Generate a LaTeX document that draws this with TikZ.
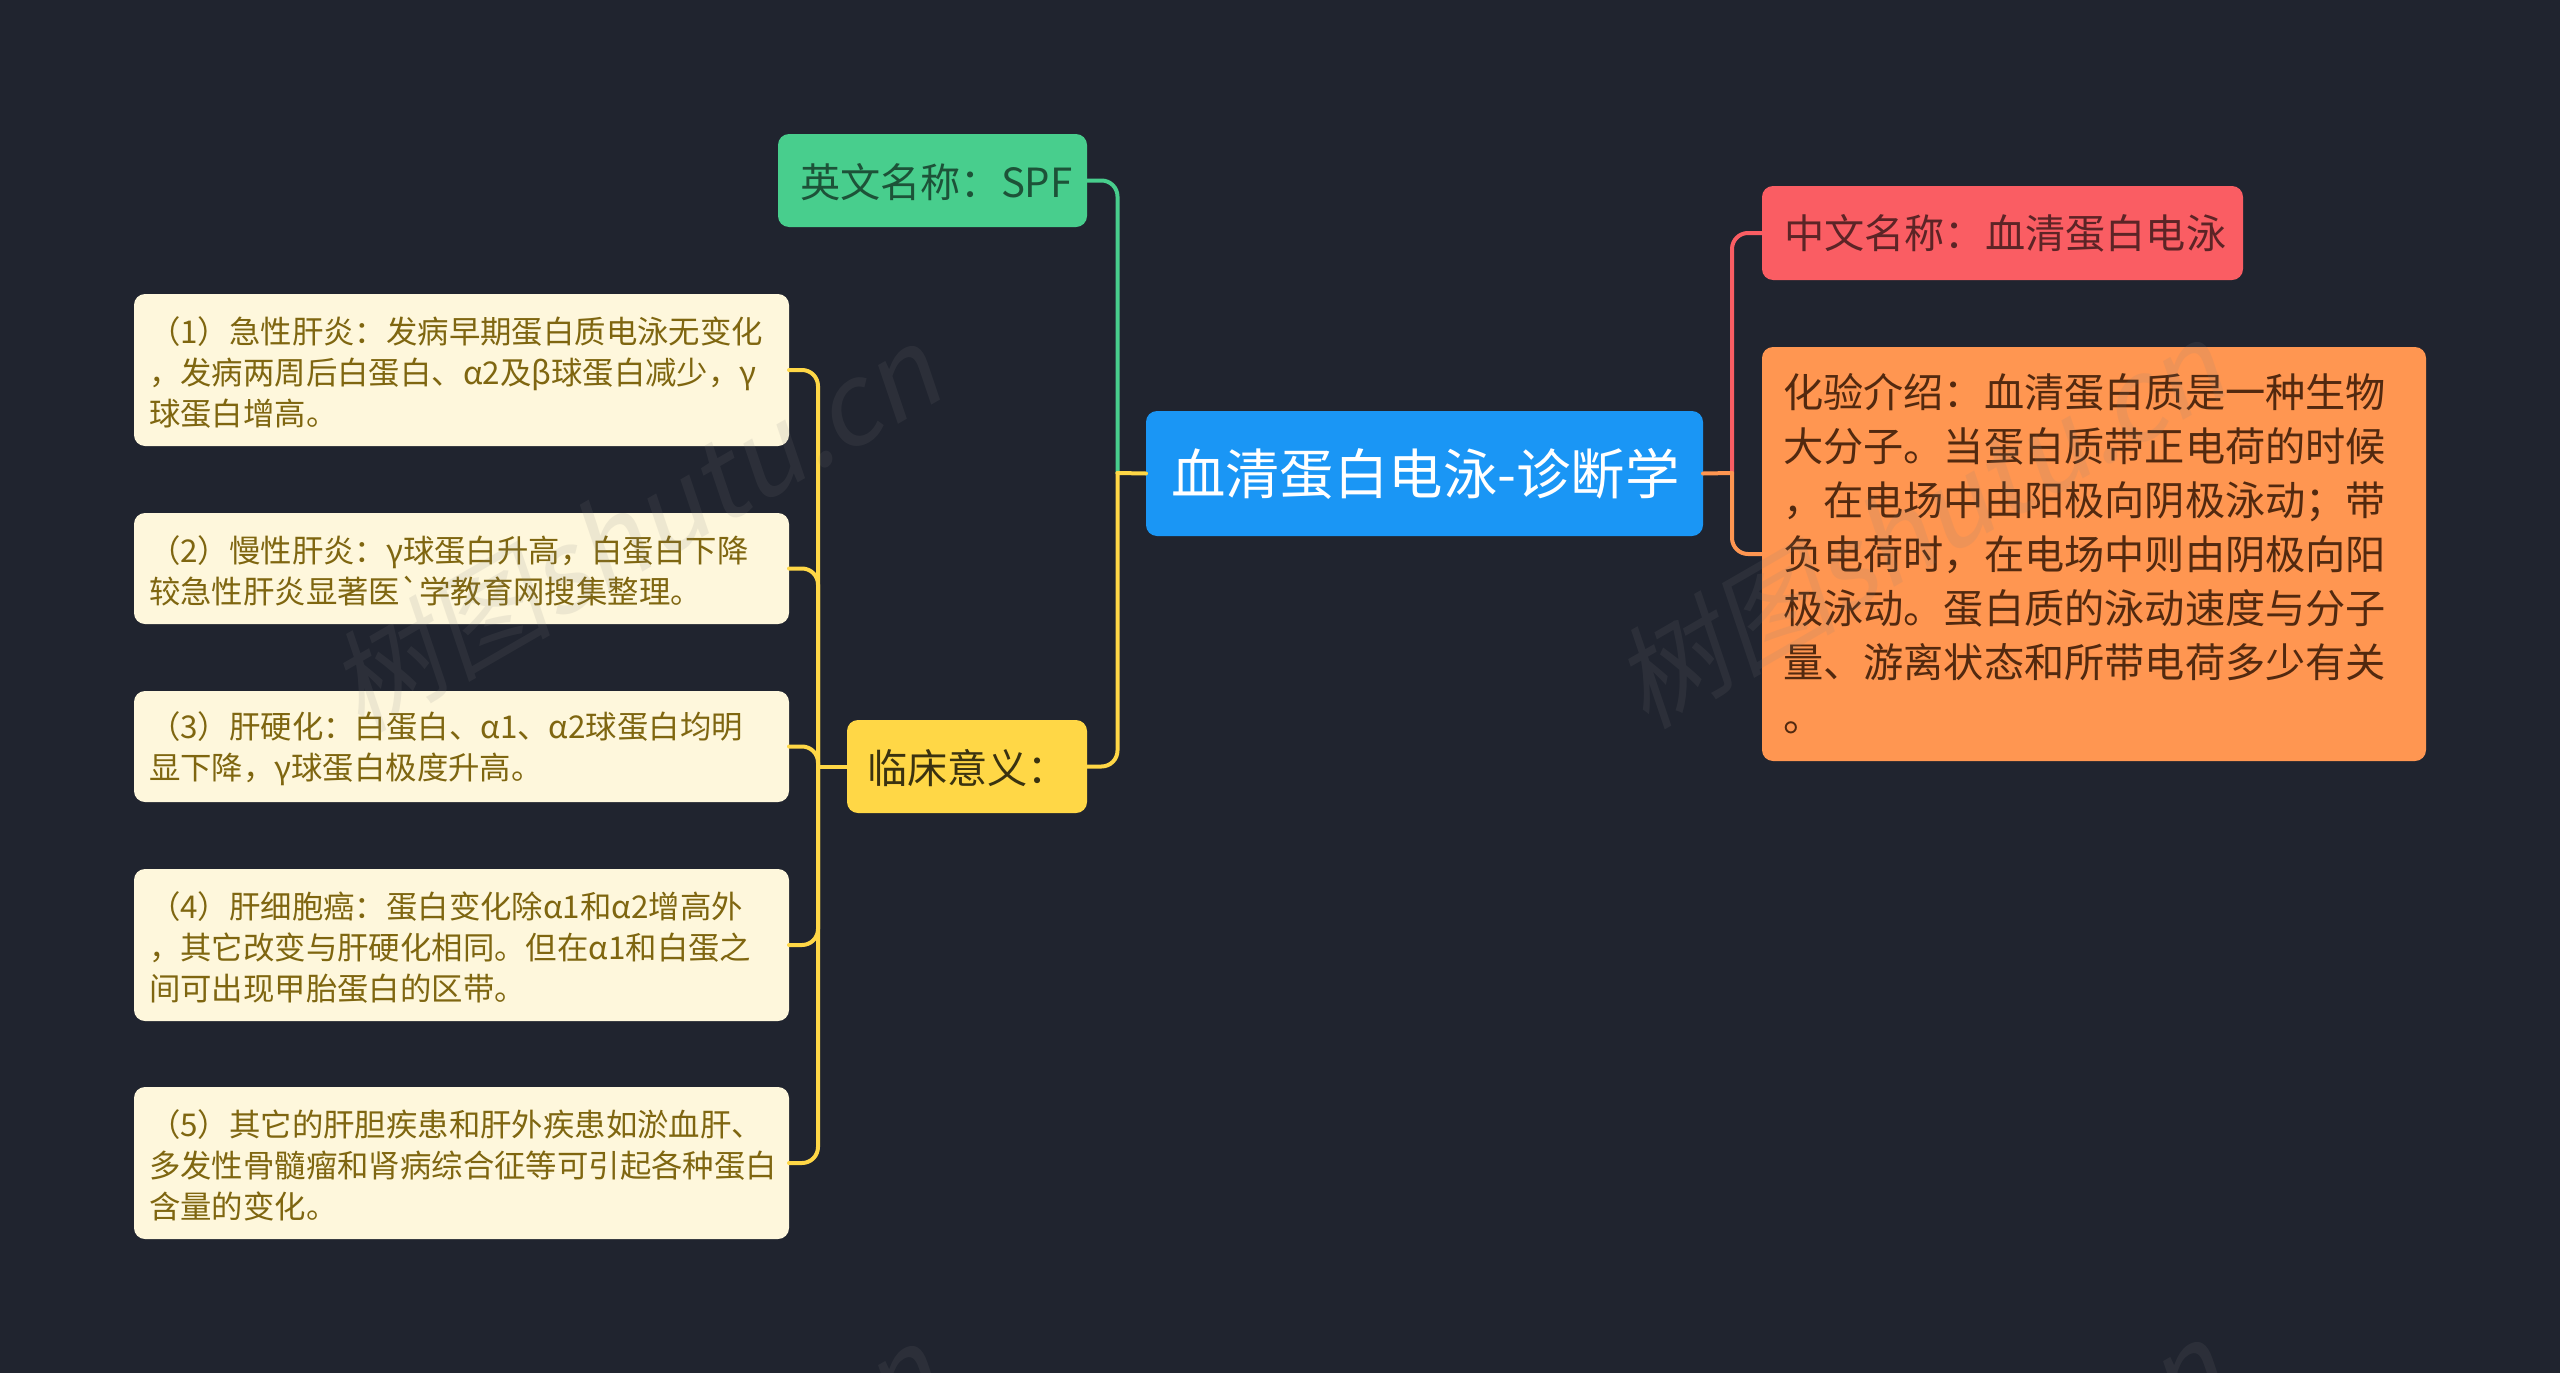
\documentclass[tikz,border=0pt]{standalone}
\usepackage{fontspec}
\newfontfamily\cjk{Noto Sans CJK SC}
\definecolor{bgc}{HTML}{20242F}
\definecolor{cblue}{HTML}{1A96F5}
\definecolor{cgreen}{HTML}{48CE8D}
\definecolor{cred}{HTML}{FA5D63}
\definecolor{corange}{HTML}{FF9651}
\definecolor{cyellow}{HTML}{FFD746}
\definecolor{ccream}{HTML}{FEF7DC}
\definecolor{tcream}{HTML}{7F6610}
\definecolor{tgreen}{HTML}{1D5238}
\definecolor{tred}{HTML}{5C2426}
\definecolor{torange}{HTML}{52290F}
\definecolor{tyellow}{HTML}{3A3210}
\tikzset{
  box/.style={rectangle,rounded corners=11pt,anchor=north west,align=left,inner ysep=0pt,outer sep=0pt},
  topic/.style={box,fill=cblue,text=white,inner xsep=25pt,font=\cjk\fontsize{54.4}{60}\selectfont},
  big/.style={box,inner xsep=22pt,font=\cjk\fontsize{40.2}{54}\selectfont},
  lowered/.style={execute at begin node={\leavevmode\rule{0pt}{#1}}},
  leaf/.style={box,fill=ccream,text=tcream,inner xsep=15pt,text width=625pt,minimum height=#1,font=\cjk\fontsize{31.4}{41}\selectfont,lowered=32pt},
  link/.style={line width=4pt,line cap=round,rounded corners=16pt},
  wmark/.style={text=gray,opacity=0.13,rotate=30,xslant=0.2,font=\cjk\fontsize{112}{120}\selectfont,inner sep=0pt}
}
\begin{document}
\begin{tikzpicture}[x=1pt,y=-1pt]
\useasboundingbox (0,0) rectangle (2560,1373);
\fill[bgc] (0,0) rectangle (2560,1373);
\clip (0,0) rectangle (2560,1373);

\coordinate (trunkL) at (1117.5,473);
\coordinate (trunkR) at (1732,473);
\coordinate (trunkC) at (818,766.5);

\node[topic,text width=507pt,minimum height=125pt] (central) at (1146,411) {\mbox{血清蛋白电泳-诊断学}};
\node[big,fill=cgreen,text=tgreen,text width=265pt,minimum height=93pt,lowered=37pt] (english) at (778,134) {英文名称：SPF};
\node[big,fill=cyellow,text=tyellow,inner xsep=20pt,text width=200pt,minimum height=93pt,lowered=37pt] (clinical) at (847,720) {临床意义：};
\node[big,fill=cred,text=tred,text width=437pt,minimum height=94pt] (chinese) at (1762,186) {中文名称：血清蛋白电泳};
\node[big,fill=corange,text=torange,inner xsep=21pt,text width=622pt,minimum height=414pt] (intro) at (1762,347) {化验介绍：血清蛋白质是一种生物\\大分子。当蛋白质带正电荷的时候\\，在电场中由阳极向阴极泳动；带\\负电荷时，在电场中则由阴极向阳\\极泳动。蛋白质的泳动速度与分子\\量、游离状态和所带电荷多少有关\\。};

\node[leaf=152pt] (c1) at (134,294) {（1）急性肝炎：发病早期蛋白质电泳无变化\\，发病两周后白蛋白、α2及β球蛋白减少，γ\\球蛋白增高。};
\node[leaf=111pt] (c2) at (134,513) {（2）慢性肝炎：γ球蛋白升高，白蛋白下降\\较急性肝炎显著医`学教育网搜集整理。};
\node[leaf=111pt] (c3) at (134,691) {（3）肝硬化：白蛋白、α1、α2球蛋白均明\\显下降，γ球蛋白极度升高。};
\node[leaf=152pt] (c4) at (134,869) {（4）肝细胞癌：蛋白变化除α1和α2增高外\\，其它改变与肝硬化相同。但在α1和白蛋之\\间可出现甲胎蛋白的区带。};
\node[leaf=152pt] (c5) at (134,1087) {（5）其它的肝胆疾患和肝外疾患如淤血肝、\\多发性骨髓瘤和肾病综合征等可引起各种蛋白\\含量的变化。};

\draw[link,cgreen] (trunkL) |- (english.east);
\draw[link,cyellow] (trunkL) |- (clinical.east);
\draw[link,cyellow,rounded corners=0pt] (central.west) -- (trunkL);
\draw[link,cred] (trunkR) |- (chinese.west);
\draw[link,corange] (trunkR) |- (intro.west);
\draw[link,corange,rounded corners=0pt] (central.east) -- (trunkR);
\draw[link,cyellow,rounded corners=0pt] (clinical.west) -- (trunkC);
\foreach \n in {c1,c2,c3,c4,c5}{
  \draw[link,cyellow] (trunkC) |- (\n.east);
}

\node[wmark] (w1) at (641,524) {树图shutu.cn};
\node[wmark] (w2) at (1926,520) {树图shutu.cn};
\node[wmark] (w3) at (641,1524) {树图shutu.cn};
\node[wmark] (w4) at (1926,1520) {树图shutu.cn};
\end{tikzpicture}
\end{document}
